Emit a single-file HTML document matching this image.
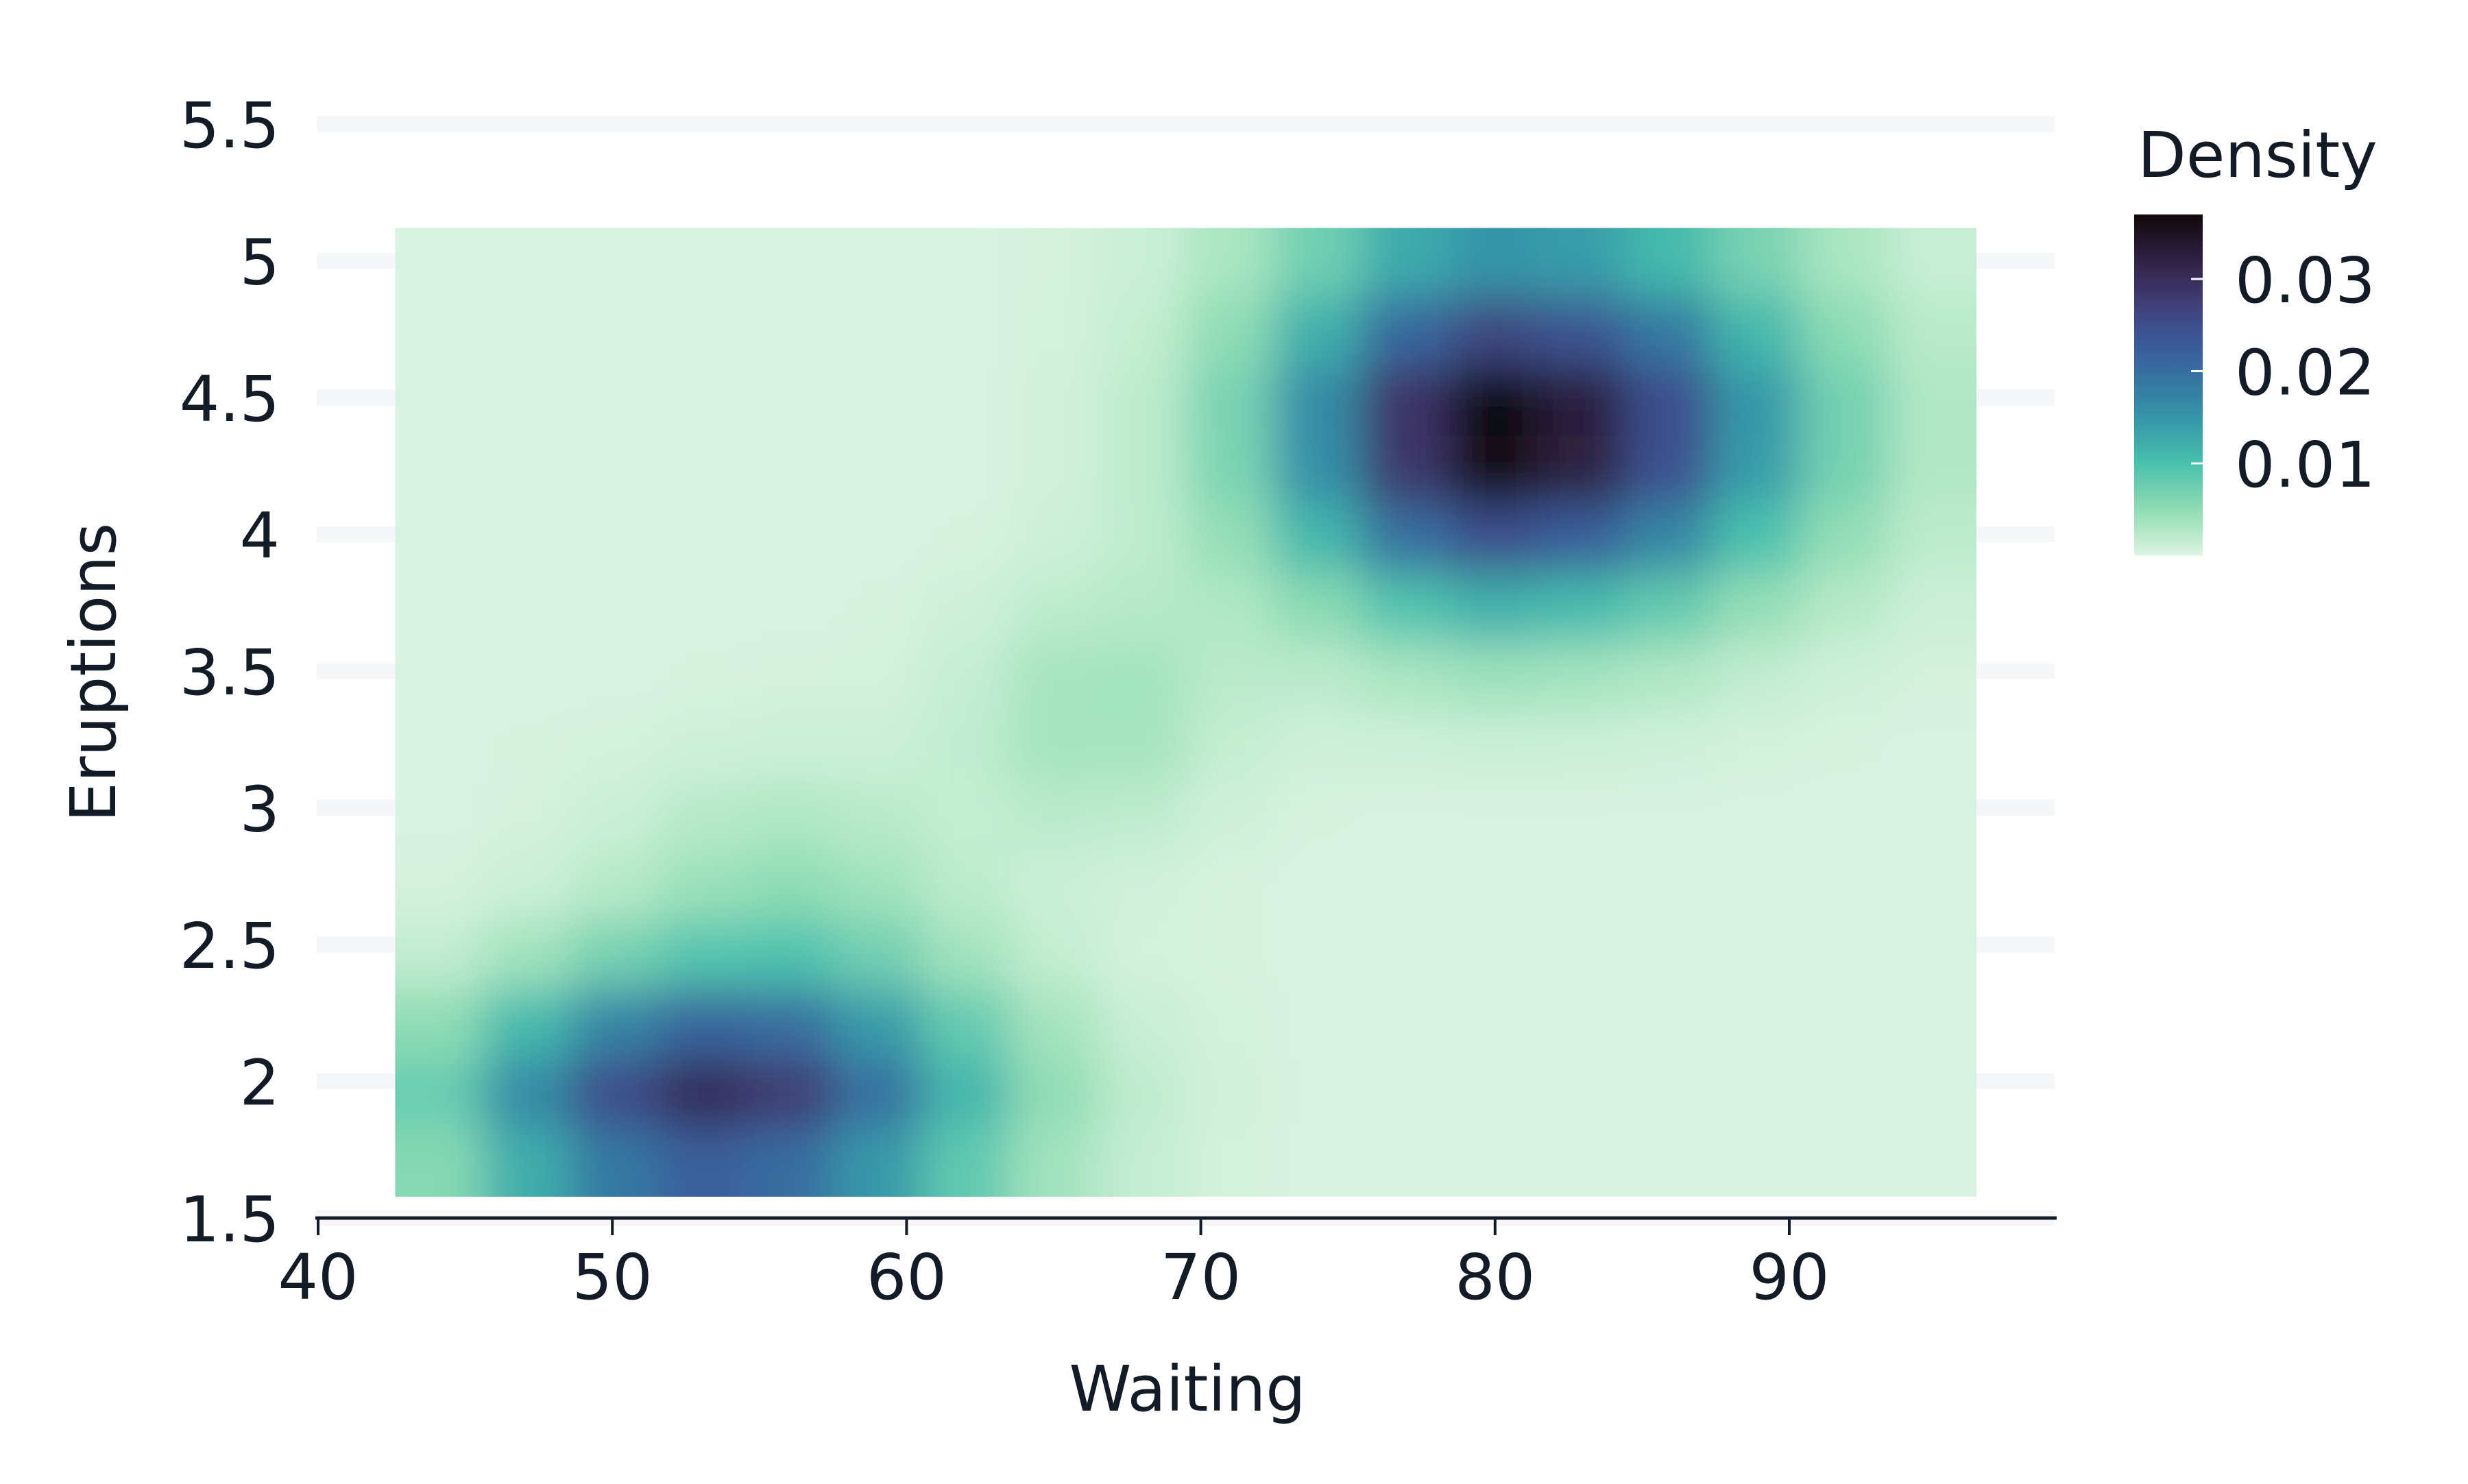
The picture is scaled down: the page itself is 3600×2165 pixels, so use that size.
<!DOCTYPE html>
<html>
<head>
<meta charset="utf-8">
<style>
  html, body { margin:0; padding:0; background:#ffffff; }
  body { width:3600px; height:2160px; overflow:hidden; }
  svg text { font-family: "DejaVu Sans", "Liberation Sans", sans-serif; fill:#131c26; }
</style>
</head>
<body>
<svg id="chart" width="3600" height="2160" viewBox="0 0 3600 2160" xmlns="http://www.w3.org/2000/svg">
  <defs>
    <clipPath id="heatClip"><rect id="heatClipRect" x="0" y="0" width="0" height="0"></rect></clipPath>
    <filter id="smooth" x="-10%" y="-10%" width="120%" height="120%">
      <feGaussianBlur stdDeviation="34"></feGaussianBlur>
    </filter>
    <linearGradient id="cbGrad" x1="0" y1="1" x2="0" y2="0"></linearGradient>
  </defs>
  <g id="grid"></g>
  <g clip-path="url(#heatClip)">
    <g id="cells" filter="url(#smooth)"></g>
  </g>
  <g id="axes"></g>
  <g id="legend"></g>
</svg>
<script>
// ---- data (density grid; rows top (high eruptions) to bottom) ----
const waitingRange = [42.62, 96.36];
const eruptionsRange = [1.578, 5.12];
const densityUnit = 0.0001;
const densityRows = [
  [3,3,3,3,3,3,3,5,12,32,72,125,150,140,108,66,32,14],
  [3,3,3,3,3,3,3,6,16,50,120,210,262,240,185,110,52,22],
  [3,3,3,3,3,3,3,7,20,66,162,290,372,330,250,146,70,28],
  [3,3,3,3,3,3,3,7,20,64,158,284,366,324,245,142,68,27],
  [3,3,3,3,3,3,4,10,19,46,110,196,248,222,168,98,47,20],
  [3,3,3,3,3,4,9,20,24,28,53,93,117,105,80,46,24,11],
  [3,3,3,4,5,6,15,35,37,21,21,32,40,36,28,17,9,5],
  [3,4,6,9,11,11,18,36,35,16,9,10,12,11,9,6,4,3],
  [3,5,12,23,28,22,16,21,19,9,4,3,3,3,3,3,3,3],
  [5,11,24,42,50,38,20,12,8,4,3,3,3,3,3,3,3,3],
  [17,38,68,92,95,71,37,16,6,4,3,3,3,3,3,3,3,3],
  [50,108,171,212,200,143,80,35,13,6,3,3,3,3,3,3,3,3],
  [78,165,254,305,278,199,112,49,19,7,3,3,3,3,3,3,3,3],
  [56,122,187,222,202,145,83,37,15,6,3,3,3,3,3,3,3,3]
];
const xTicks = [40, 50, 60, 70, 80, 90];
const yTicks = [1.5, 2, 2.5, 3, 3.5, 4, 4.5, 5, 5.5];
const yTickLabels = ["1.5", "2", "2.5", "3", "3.5", "4", "4.5", "5", "5.5"];
const cbTicks = [0.01, 0.02, 0.03];
const cbTickLabels = ["0.01", "0.02", "0.03"];
const cbRange = [0, 0.037];

// ---- scales ----
const NS = "http://www.w3.org/2000/svg";
function xScale(w) { return 464 + (w - 40) * 42.92; }
function yScale(e) { return 1777 - (e - 1.5) * 399; }
function cbScale(v) { return 810.5 - (v - cbRange[0]) / 0.01 * 134.5; }

const stops = [
  [0.0000,"#def5e5"],[0.0025,"#b5e8c8"],[0.0050,"#8fdcb5"],[0.0075,"#6ccdb0"],
  [0.0100,"#49c1ad"],[0.0125,"#3eaaab"],[0.0150,"#3595a8"],[0.0175,"#3581a4"],
  [0.0200,"#376ea0"],[0.0225,"#3b5c9a"],[0.0250,"#3e4e8c"],[0.0275,"#403d74"],
  [0.0300,"#392d5b"],[0.0325,"#2c1f40"],[0.0350,"#1d1220"],[0.0370,"#0f0809"]
];
function hex2rgb(h){return [parseInt(h.slice(1,3),16),parseInt(h.slice(3,5),16),parseInt(h.slice(5,7),16)];}
function colorFor(v){
  if (v <= stops[0][0]) return stops[0][1];
  for (let i=1;i<stops.length;i++){
    if (v <= stops[i][0]) {
      const a=stops[i-1], b=stops[i];
      const t=(v-a[0])/(b[0]-a[0]);
      const ca=hex2rgb(a[1]), cb=hex2rgb(b[1]);
      const c=ca.map((x,k)=>Math.round(x+(cb[k]-x)*t));
      return "rgb("+c.join(",")+")";
    }
  }
  return stops[stops.length-1][1];
}
function mk(tag, attrs, parent){
  const el=document.createElementNS(NS,tag);
  for (const k in attrs) el.setAttribute(k, attrs[k]);
  parent.appendChild(el);
  return el;
}

// ---- gridlines ----
const grid=document.getElementById("grid");
yTicks.forEach(function(t){
  const g=mk("rect",{x:462,y:yScale(t)-11.5,width:2535,height:23,fill:"#f5f6f8"},grid);
  
  
});

// ---- heatmap ----
const hx0=xScale(waitingRange[0]), hx1=xScale(waitingRange[1]);
const hy0=yScale(eruptionsRange[1]), hy1=yScale(eruptionsRange[0]);
const cr=document.getElementById("heatClipRect");
cr.setAttribute("x",hx0); cr.setAttribute("y",hy0);
cr.setAttribute("width",hx1-hx0); cr.setAttribute("height",hy1-hy0);
const cells=document.getElementById("cells");
const nR=densityRows.length, nC=densityRows[0].length;
const cw=(hx1-hx0)/nC, ch=(hy1-hy0)/nR;
const ext=160;
for (let r=0;r<nR;r++){
  for (let c=0;c<nC;c++){
    let x=hx0+c*cw, y=hy0+r*ch, w=cw+0.8, h=ch+0.8;
    if (c===0){x-=ext; w+=ext;}
    if (c===nC-1){w+=ext;}
    if (r===0){y-=ext; h+=ext;}
    if (r===nR-1){h+=ext;}
    const cell=mk("rect",{x:x,y:y,width:w,height:h,fill:colorFor(densityRows[r][c]*densityUnit)},cells);
    
    
  }
}

// ---- axes ----
const axes=document.getElementById("axes");
const axisLine=mk("line",{x1:460,y1:1777,x2:3000,y2:1777,stroke:"#131c26","stroke-width":5},axes);


xTicks.forEach(function(t){
  const tk=mk("line",{x1:xScale(t),y1:1777,x2:xScale(t),y2:1802,stroke:"#131c26","stroke-width":4},axes);
  
  
  const lb=mk("text",{x:xScale(t),y:1895,"text-anchor":"middle","font-size":92},axes);
  lb.textContent=String(t);
  
  
});
yTicks.forEach(function(t,i){
  const lb=mk("text",{x:408,y:yScale(t)+34,"text-anchor":"end","font-size":92},axes);
  lb.textContent=yTickLabels[i];
  
  
});
const xt=mk("text",{x:1732,y:2058,"text-anchor":"middle","font-size":92},axes);
xt.textContent="Waiting";


const yt=mk("text",{x:0,y:0,"text-anchor":"middle","font-size":92,transform:"translate(168,981) rotate(-90)"},axes);
yt.textContent="Eruptions";



// ---- colorbar ----
const grad=document.getElementById("cbGrad");
stops.forEach(function(s){
  mk("stop",{offset:(s[0]-cbRange[0])/(cbRange[1]-cbRange[0]),"stop-color":s[1]},grad);
});
const legend=document.getElementById("legend");
const lt=mk("text",{x:3118,y:258,"font-size":92},legend);
lt.textContent="Density";


const bar=mk("rect",{x:3113,y:cbScale(cbRange[1]),width:100,height:cbScale(cbRange[0])-cbScale(cbRange[1]),fill:"url(#cbGrad)"},legend);


cbTicks.forEach(function(t,i){
  const tk=mk("line",{x1:3196,y1:cbScale(t),x2:3213,y2:cbScale(t),stroke:"#ffffff","stroke-width":3},legend);
  
  
  const lb=mk("text",{x:3260,y:cbScale(t)+34,"font-size":92},legend);
  lb.textContent=cbTickLabels[i];
  
  
});
</script>
</body>
</html>
